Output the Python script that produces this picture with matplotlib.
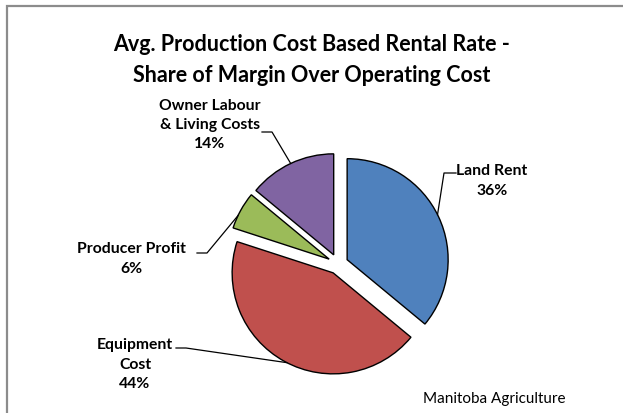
import matplotlib.pyplot as plt
import numpy as np

# data
labels = ['Land Rent', 'Equipment\nCost', 'Producer Profit', 'Owner Labour\n& Living Costs']
shares = [36, 44, 6, 14]
colors = ['#4F81BD', '#C0504D', '#9BBB59', '#8064A2']

title = 'Avg. Production Cost Based Rental Rate -\nShare of Margin Over Operating Cost'
source = 'Manitoba Agriculture'

W, H = 623, 413
fig = plt.figure(figsize=(W / 100, H / 100), dpi=100)
ax = fig.add_axes([0, 0, 1, 1])


def fy(y):
    # pixel row (from top) -> data y (from bottom)
    return H - y


# pie, drawn in pixel units
cx, cy, r = 338, 264, 101
start = 90
wedges, _ = ax.pie(
    shares,
    colors=colors,
    startangle=start,
    counterclock=False,
    radius=r,
    center=(cx, fy(cy)),
    explode=[0.1 * r] * len(shares),
    wedgeprops=dict(edgecolor='black', linewidth=1.0),
    frame=True,
)
ax.set_xlim(0, W)
ax.set_ylim(0, H)
ax.set_aspect('auto')
ax.axis('off')

# chart frame (only left and top visible in the crop)
ax.plot([6.5, 6.5, W], [0, fy(5.5), fy(5.5)], color='#8c8c8c', lw=1.6,
        solid_capstyle='butt', solid_joinstyle='miter')

# label positions (text centre) and leader elbow
text_pos = [(492, 181), (135, 365), (131, 259), (210, 125)]
elbow = [(444, 173), (186, 348), (207, 253), (272, 132)]
anchor_frac = [0.49, 0.49, 0.35, 0.5]  # clockwise fraction along each wedge's arc

fs = 11.3
font = 'Lato'
total = sum(shares)
cum = np.concatenate([[0], np.cumsum(shares)]) / total * 360
for i, w in enumerate(wedges):
    a0 = start - cum[i]
    a1 = start - cum[i + 1]
    ang = np.deg2rad(a0 + (a1 - a0) * anchor_frac[i])
    wx, wy = w.center
    px = wx + w.r * np.cos(ang)
    py = wy + w.r * np.sin(ang)
    ex, ey = elbow[i]
    side = 12 if ex > cx else -10
    ax.plot([ex + side, ex, px], [fy(ey), fy(ey), py], color='black', lw=0.9)
    ax.text(text_pos[i][0], fy(text_pos[i][1]), f'{labels[i]}\n{shares[i]}%',
            ha='center', va='center', fontsize=fs, fontweight='bold',
            family=font, linespacing=1.5)

ax.text(W / 2, fy(60), title, ha='center', va='center', fontsize=15.5,
        fontweight='bold', family=font, linespacing=1.55)
ax.text(494, fy(399), source, ha='center', va='center', fontsize=11, family=font)

fig.savefig('out.png', dpi=100)
